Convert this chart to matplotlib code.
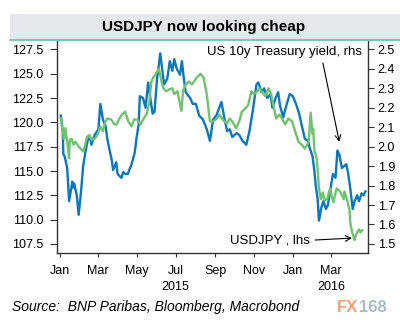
import matplotlib
matplotlib.use('Agg')
import matplotlib.pyplot as plt
import matplotlib.dates as mdates
from matplotlib.patches import Rectangle
from matplotlib.lines import Line2D
import numpy as np

plt.rcParams['font.family'] = ['Liberation Sans', 'DejaVu Sans']

# US 10y Treasury yield (rhs)
ust_dates = ['2015-01-02', '2015-01-05', '2015-01-06', '2015-01-08', '2015-01-12', '2015-01-15',
             '2015-01-20', '2015-01-21', '2015-01-23', '2015-01-27', '2015-01-30', '2015-02-03',
             '2015-02-06', '2015-02-10', '2015-02-13', '2015-02-17', '2015-02-19', '2015-02-24',
             '2015-03-02', '2015-03-05', '2015-03-09', '2015-03-13', '2015-03-16', '2015-03-19',
             '2015-03-23', '2015-03-25', '2015-03-30', '2015-04-01', '2015-04-07', '2015-04-10',
             '2015-04-13', '2015-04-17', '2015-04-23', '2015-04-28', '2015-05-01', '2015-05-04',
             '2015-05-06', '2015-05-11', '2015-05-15', '2015-05-19', '2015-05-22', '2015-05-26',
             '2015-05-29', '2015-06-02', '2015-06-04', '2015-06-07', '2015-06-10', '2015-06-13',
             '2015-06-18', '2015-06-22', '2015-06-26', '2015-06-29', '2015-07-03', '2015-07-08',
             '2015-07-11', '2015-07-14', '2015-07-17', '2015-07-24', '2015-07-28', '2015-08-02',
             '2015-08-07', '2015-08-13', '2015-08-19', '2015-08-24', '2015-08-29', '2015-09-03',
             '2015-09-11', '2015-09-16', '2015-09-20', '2015-09-24', '2015-09-28', '2015-10-05',
             '2015-10-09', '2015-10-14', '2015-10-20', '2015-10-25', '2015-10-30', '2015-11-05',
             '2015-11-08', '2015-11-13', '2015-11-17', '2015-11-22', '2015-11-27', '2015-11-30',
             '2015-12-05', '2015-12-09', '2015-12-12', '2015-12-17', '2015-12-20', '2015-12-27',
             '2016-01-01', '2016-01-06', '2016-01-11', '2016-01-15', '2016-01-20', '2016-01-25',
             '2016-01-27', '2016-02-01', '2016-02-04', '2016-02-06', '2016-02-09', '2016-02-11',
             '2016-02-15', '2016-02-18', '2016-02-22', '2016-02-25', '2016-03-01', '2016-03-04',
             '2016-03-08', '2016-03-11', '2016-03-14', '2016-03-18', '2016-03-25', '2016-03-28',
             '2016-03-31', '2016-04-04', '2016-04-07', '2016-04-11', '2016-04-14', '2016-04-18',
             '2016-04-21', '2016-04-24']
ust_yield = [2.16, 2.08, 1.96, 1.95, 1.89, 1.72,
             1.82, 1.79, 1.81, 1.75, 1.65, 1.78,
             1.90, 1.98, 2.03, 2.05, 2.01, 2.06,
             2.09, 2.22, 2.14, 2.11, 2.04, 1.99,
             1.93, 1.88, 1.92, 1.86, 1.84, 1.87,
             1.86, 1.86, 1.91, 1.97, 2.05, 2.11,
             2.26, 2.25, 2.20, 2.33, 2.26, 2.17,
             2.18, 2.35, 2.40, 2.48, 2.40, 2.32,
             2.35, 2.44, 2.39, 2.45, 2.40, 2.37,
             2.44, 2.35, 2.28, 2.25, 2.22, 2.22,
             2.16, 2.14, 2.09, 2.03, 2.14, 2.16,
             2.23, 2.14, 2.08, 2.09, 2.05, 2.07,
             2.06, 2.03, 2.01, 2.08, 2.18, 2.32,
             2.33, 2.28, 2.30, 2.25, 2.27, 2.20,
             2.25, 2.28, 2.21, 2.15, 2.19, 2.27,
             2.26, 2.22, 2.17, 2.11, 2.04, 2.03,
             2.00, 1.95, 1.87, 1.80, 1.73, 1.62,
             1.69, 1.72, 1.68, 1.70, 1.80, 1.86,
             1.84, 1.98, 1.96, 1.89, 1.91, 1.86,
             1.79, 1.68, 1.72, 1.75, 1.72, 1.76,
             1.75, 1.77]

# USDJPY (lhs)
jpy_dates = ['2015-01-02', '2015-01-05', '2015-01-07', '2015-01-09', '2015-01-12', '2015-01-15',
             '2015-01-16', '2015-01-19', '2015-01-22', '2015-01-25', '2015-01-29', '2015-02-02',
             '2015-02-06', '2015-02-09', '2015-02-12', '2015-02-16', '2015-02-19', '2015-02-24',
             '2015-03-01', '2015-03-05', '2015-03-09', '2015-03-13', '2015-03-16', '2015-03-22',
             '2015-03-27', '2015-03-31', '2015-04-03', '2015-04-08', '2015-04-13', '2015-04-18',
             '2015-04-23', '2015-04-27', '2015-05-02', '2015-05-07', '2015-05-12', '2015-05-17',
             '2015-05-21', '2015-05-24', '2015-05-27', '2015-05-31', '2015-06-05', '2015-06-09',
             '2015-06-12', '2015-06-16', '2015-06-21', '2015-06-26', '2015-06-29', '2015-07-04',
             '2015-07-08', '2015-07-10', '2015-07-13', '2015-07-17', '2015-07-22', '2015-07-27',
             '2015-08-02', '2015-08-09', '2015-08-14', '2015-08-19', '2015-08-24', '2015-08-29',
             '2015-09-04', '2015-09-08', '2015-09-14', '2015-09-20', '2015-09-24', '2015-09-28',
             '2015-10-04', '2015-10-09', '2015-10-13', '2015-10-18', '2015-10-23', '2015-10-28',
             '2015-11-01', '2015-11-06', '2015-11-10', '2015-11-15', '2015-11-19', '2015-11-24',
             '2015-11-28', '2015-12-02', '2015-12-06', '2015-12-11', '2015-12-15', '2015-12-20',
             '2015-12-25', '2015-12-31', '2016-01-05', '2016-01-10', '2016-01-15', '2016-01-20',
             '2016-01-26', '2016-01-29', '2016-02-01', '2016-02-02', '2016-02-04', '2016-02-07',
             '2016-02-09', '2016-02-11', '2016-02-14', '2016-02-17', '2016-02-20', '2016-02-24',
             '2016-02-27', '2016-02-29', '2016-03-02', '2016-03-05', '2016-03-07', '2016-03-10',
             '2016-03-15', '2016-03-21', '2016-03-22', '2016-03-26', '2016-03-30', '2016-03-31',
             '2016-04-03', '2016-04-07', '2016-04-08', '2016-04-11', '2016-04-14', '2016-04-16',
             '2016-04-19']
usdjpy = [120.4, 119.1, 118.3, 119.4, 118.0, 116.3,
          118.2, 118.3, 117.7, 118.0, 117.6, 117.3,
          117.0, 117.6, 118.5, 118.7, 118.2, 118.3,
          118.8, 119.6, 119.1, 120.1, 120.4, 120.3,
          119.8, 119.8, 120.3, 120.8, 121.1, 120.1,
          119.6, 120.3, 120.3, 119.8, 120.4, 120.9,
          122.1, 124.2, 124.6, 125.0, 125.5, 124.2,
          123.5, 123.2, 123.4, 123.5, 122.9, 123.2,
          121.9, 121.2, 123.3, 123.9, 124.2, 123.9,
          124.5, 125.0, 124.6, 122.9, 120.1, 120.1,
          120.4, 120.8, 120.2, 119.9, 120.4, 120.1,
          119.4, 120.1, 121.1, 121.4, 121.8, 123.2,
          122.9, 123.2, 123.5, 123.0, 122.7, 123.5,
          122.9, 121.6, 120.4, 120.8, 120.4, 119.8,
          120.4, 120.1, 119.0, 118.0, 117.7, 117.3,
          118.0, 121.0, 118.8, 119.3, 117.0, 116.5,
          115.2, 113.2, 112.1, 112.8, 112.0, 112.1,
          112.9, 113.2, 112.4, 111.8, 112.5, 113.2,
          112.9, 112.1, 112.9, 112.1, 111.0, 109.8,
          108.7, 107.9, 108.2, 108.7, 109.0, 108.7,
          108.9]

left_ticks = [107.5, 110.0, 112.5, 115.0, 117.5, 120.0, 122.5, 125.0, 127.5]
right_ticks = [1.5, 1.6, 1.7, 1.8, 1.9, 2.0, 2.1, 2.2, 2.3, 2.4, 2.5]

blue = '#0a78be'
green = '#6ec36e'

ust_x = pd_dates = np.array(ust_dates, dtype='datetime64[D]')
jpy_x = np.array(jpy_dates, dtype='datetime64[D]')

fig = plt.figure(figsize=(4, 3.22), dpi=100)

# title band
fig.patches.append(Rectangle((10/400, 1-39/322), 1-10/400, 25/322, transform=fig.transFigure,
                             facecolor='#e4e7ec', edgecolor='none', zorder=0))
fig.lines.append(Line2D([10/400, 1], [1-39.5/322, 1-39.5/322], transform=fig.transFigure,
                        color='#5fbfa8', lw=1.2))
fig.text(0.51, 1-27/322, 'USDJPY now looking cheap', ha='center', va='center',
         fontsize=11, fontweight='bold')

ax = fig.add_axes([57/400, 1-252.7/322, 311/400, 211.7/322])
ax2 = ax.twinx()
ax2.set_zorder(ax.get_zorder()-1)
ax.patch.set_visible(False)

ax2.plot(ust_x, ust_yield, color=blue, lw=1.7, solid_joinstyle='round')
ax.plot(jpy_x, usdjpy, color=green, lw=1.7, solid_joinstyle='round')

ax.set_ylim(106.6, 128.37)
ax2.set_ylim(1.5 + (106.6-107.5)/20, 1.5 + (128.37-107.5)/20)
ax.set_xlim(np.datetime64('2014-12-27'), np.datetime64('2016-04-28'))

ax.set_yticks(left_ticks)
ax.set_yticklabels(['%.1f' % v for v in left_ticks])
ax2.set_yticks(right_ticks)
ax2.set_yticklabels(['%.1f' % v for v in right_ticks])

xt = [np.datetime64(d) for d in ['2015-01-01', '2015-03-01', '2015-05-01', '2015-07-01',
                                 '2015-09-01', '2015-11-01', '2016-01-01', '2016-03-01']]
xl = ['Jan', 'Mar', 'May', 'Jul\n2015', 'Sep', 'Nov', 'Jan', 'Mar\n2016']
ax.set_xticks(xt)
ax.set_xticklabels(xl, linespacing=1.45, va='top')

for a in (ax, ax2):
    a.spines['top'].set_visible(False)
    for s in a.spines.values():
        s.set_color('#333333')
        s.set_linewidth(1.0)
ax.spines['right'].set_visible(False)
ax2.spines['left'].set_visible(False)
ax2.spines['bottom'].set_visible(False)

ax.tick_params(axis='y', length=5, pad=5, labelsize=9, color='#333333')
ax.tick_params(axis='x', length=3, pad=6, labelsize=9, color='#333333')
ax2.tick_params(axis='y', length=4, pad=3, labelsize=9, color='#333333')

# annotations
ax.text(0.98, 0.948, 'US 10y Treasury yield, rhs', transform=ax.transAxes,
        ha='right', va='center', fontsize=9.5)
ax2.annotate('', xy=(np.datetime64('2016-03-14'), 2.025), xycoords='data',
             xytext=(0.855, 0.896), textcoords='axes fraction',
             arrowprops=dict(arrowstyle='->', color='black', lw=0.8, shrinkA=0, shrinkB=0))
ax.text(0.814, 0.057, 'USDJPY , lhs', transform=ax.transAxes,
        ha='right', va='center', fontsize=9.5)
ax.annotate('', xy=(np.datetime64('2016-04-03'), 108.1), xycoords='data',
            xytext=(0.83, 0.06), textcoords='axes fraction',
            arrowprops=dict(arrowstyle='->', color='black', lw=0.8, shrinkA=0, shrinkB=0))

fig.text(12/400, 1-307/322, 'Source:  BNP Paribas, Bloomberg, Macrobond', ha='left', va='center',
         fontsize=10, style='italic')
fig.text(337/400, 1-307/322, 'FX', ha='left', va='center', fontsize=12, fontweight='bold',
         color='#f4a07a')
fig.text(359/400, 1-307/322, '168', ha='left', va='center', fontsize=12, fontweight='bold',
         color='#a9bccb')

fig.savefig('out.png', dpi=100)
